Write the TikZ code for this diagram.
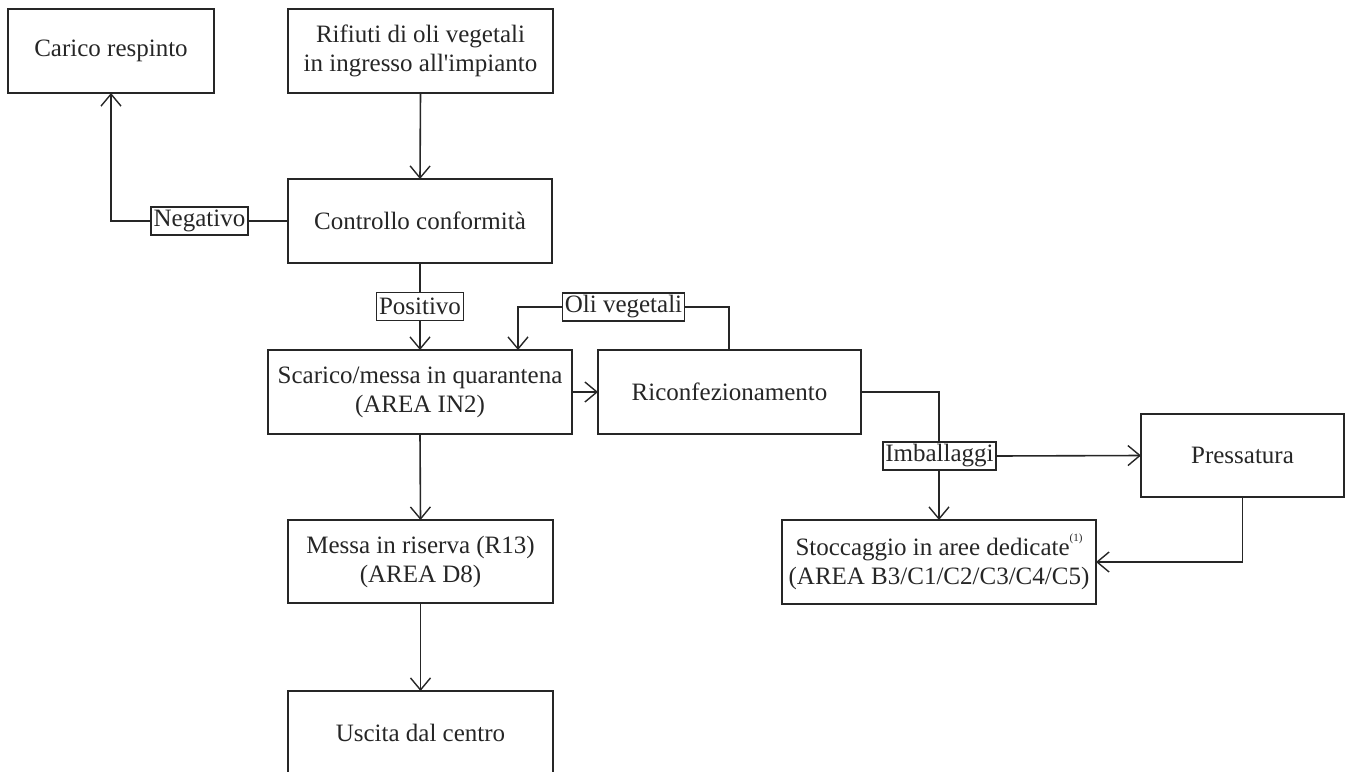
\documentclass[tikz,border=0pt]{standalone}
\usepackage{fontspec}
\setmainfont{Liberation Serif}
\usetikzlibrary{arrows.meta}
\begin{document}
\begin{tikzpicture}[x=1pt,y=-1pt,
  line width=1.6pt, draw={black!85},
  box/.style={draw, rectangle, inner sep=0pt, outer sep=0pt, align=center,
    font=\fontsize{25}{29}\selectfont, text=black!85},
  tag/.style={draw, fill=white, rectangle, inner xsep=2.5pt, inner ysep=0pt,
    outer sep=0pt, minimum height=28pt, font=\fontsize{25}{29}\selectfont, text=black!85},
  flow/.style={-{Straight Barb[length=12pt,width=20pt,line width=1.4pt]}}]
\useasboundingbox (0,0) rectangle (1348,771);

% process boxes
\node[box, minimum width=206pt, minimum height=84pt] (carico) at (111,51) {Carico respinto};
\node[box, minimum width=265pt, minimum height=84pt] (rifiuti) at (420.5,51)
  {Rifiuti di oli vegetali\\in ingresso all\textquotesingle impianto};
\node[box, minimum width=264pt, minimum height=84pt] (controllo) at (420,221) {Controllo conformità};
\node[box, minimum width=304pt, minimum height=84pt] (scarico) at (420,392)
  {Scarico/messa in quarantena\\(AREA IN2)};
\node[box, minimum width=263pt, minimum height=84pt] (riconf) at (729.5,392) {Riconfezionamento};
\node[box, minimum width=265pt, minimum height=83pt] (messa) at (420.5,561.5)
  {Messa in riserva (R13)\\(AREA D8)};
\node[box, minimum width=265pt, minimum height=84pt] (uscita) at (420.5,733) {Uscita dal centro};
\node[box, minimum width=203pt, minimum height=83pt] (press) at (1242.5,455.5) {Pressatura};
\node[box, minimum width=314pt, minimum height=84pt] (stocc) at (939,562)
  {Stoccaggio in aree dedicate\raisebox{1.2ex}{\fontsize{11}{11}\selectfont(1)}\\(AREA B3/C1/C2/C3/C4/C5)};

% bend points
\coordinate (negcorner) at (111,221);
\coordinate (oliR) at (729,307);
\coordinate (oliL) at (518,307);
\coordinate (imbcorner) at (939,392);
\coordinate (presscorner) at (1242.5,562);

% connectors
\draw[flow] (rifiuti.south) -- (controllo.north);
\draw[flow] (controllo.west) -- (negcorner) -- (carico.south);
\draw[flow] (controllo.south) -- (scarico.north);
\draw[flow] (scarico.east) -- (riconf.west);
\draw[flow] (oliR |- riconf.north) -- (oliR) -- (oliL) -- (oliL |- scarico.north);
\draw[flow] (riconf.east) -- (imbcorner) -- (stocc.north);
\draw[flow] (press.south) -- (presscorner) -- (stocc.east);
\draw[flow] (scarico.south) -- (messa.north);
\draw[flow] (messa.south) -- (uscita.north);

% branch labels
\node[tag] (neg) at (199.5,221) {Negativo};
\node[tag] (pos) at (420,306.5) {Positivo};
\node[tag] (oli) at (623.5,307) {Oli vegetali};
\node[tag] (imb) at (939.5,456) {Imballaggi};
\draw[flow] (imb.east) -- (press.west);
\end{tikzpicture}
\end{document}
